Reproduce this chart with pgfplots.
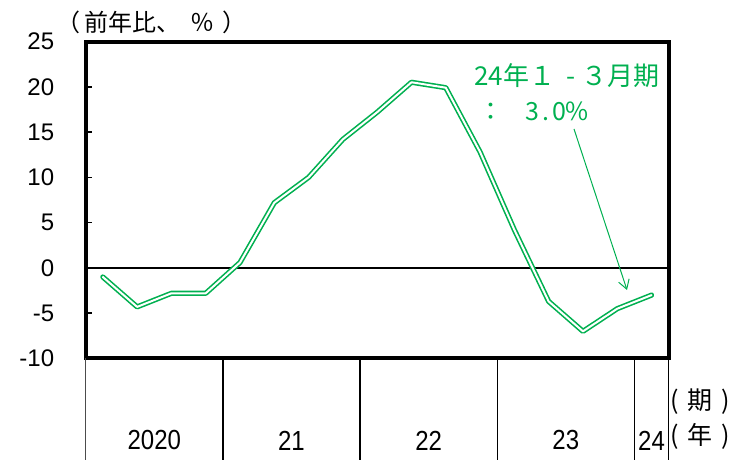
\documentclass[border=0pt]{standalone}
\usepackage{pgfplots}
\pgfplotsset{compat=1.18}
\usetikzlibrary{arrows.meta}
\usepackage{fontspec}
\setmainfont{Liberation Sans}
\newfontfamily\jp{Noto Sans CJK JP}
\definecolor{lg}{RGB}{0,176,80}
\pgfplotstableread{
x y
0 -1.0
1 -4.3
2 -2.8
3 -2.8
4 0.6
5 7.2
6 10.0
7 14.2
8 17.2
9 20.5
10 19.9
11 12.8
12 4.2
13 -3.7
14 -7.0
15 -4.5
16 -3.0
}\gdp
\newcommand\yl[1]{\scalebox{1}[1.15]{#1}}
\begin{document}
\begin{tikzpicture}
\useasboundingbox (-85.7pt,-101.5pt) rectangle (651.3pt,358.5pt);
\begin{axis}[
  scale only axis, width=583pt, height=317pt,
  xmin=-0.5, xmax=16.5, ymin=-10, ymax=25,
  axis line style={line width=4pt},
  xtick=\empty,
  ytick={-10,-5,...,25},
  ytick pos=left, tick align=inside,
  major tick length=6pt,
  tick style={black, line width=1.5pt},
  yticklabel style={font=\fontsize{24}{28}\selectfont, xshift=-28pt},
  /pgf/number format/assume math mode=true,
  clip=false,
]
\addplot[black, line width=1.5pt] coordinates {(-0.5,0) (16.5,0)};
\addplot[draw=lg, line width=1.6pt, double=white, double distance=2pt, line join=round, line cap=round] table[x=x,y=y] {\gdp};
\pgfplotsinvokeforeach{3.5,7.5,11.5,15.5,16.5}{
  \draw[black, line width=1.4pt] (axis cs:#1,-10) -- ++(0pt,-102pt);
}
\draw[black!70, line width=1pt] (axis cs:-0.5,-10) -- ++(0pt,-102pt);
\node[font=\fontsize{24}{28}\selectfont] at ([yshift=-82pt]axis cs:1.5,-10) {\yl{2020}};
\node[font=\fontsize{24}{28}\selectfont] at ([yshift=-82pt]axis cs:5.5,-10) {\yl{21}};
\node[font=\fontsize{24}{28}\selectfont] at ([yshift=-82pt]axis cs:9.5,-10) {\yl{22}};
\node[font=\fontsize{24}{28}\selectfont] at ([yshift=-82pt]axis cs:13.5,-10) {\yl{23}};
\node[font=\fontsize{24}{28}\selectfont] at ([yshift=-82pt]axis cs:16,-10) {\yl{24}};
\end{axis}
\begin{scope}[x=1pt,y=1pt,shift={(-85.7pt,-101.5pt)}]
\node[font=\jp\fontsize{24}{28}\selectfont, anchor=west, inner sep=0pt] at (56,438) {（\hspace{4pt}前年比、\hspace{10pt}％\hspace{8pt}）};
\node[font=\jp\fontsize{25}{28}\selectfont, anchor=west, inner sep=0pt] at (670,58) {(\hspace{9pt}期\hspace{9pt})};
\node[font=\jp\fontsize{25}{28}\selectfont, anchor=west, inner sep=0pt] at (670,24) {(\hspace{9pt}年\hspace{9pt})};
\node[font=\jp\fontsize{26}{28}\selectfont, text=lg, anchor=west, inner sep=0pt] at (474,384) {24年１\hspace{11pt}-\hspace{6pt}３月期};
\node[font=\jp\fontsize{25}{28}\selectfont, text=lg, anchor=west, inner sep=0pt] at (478,349) {：\hspace{22pt}3\hspace{3pt}.\hspace{3pt}0\%};
\draw[lg, line width=1pt, -{Straight Barb[length=9pt,width=11pt]}] (574,331) -- (627,170);
\end{scope}
\end{tikzpicture}
\end{document}
